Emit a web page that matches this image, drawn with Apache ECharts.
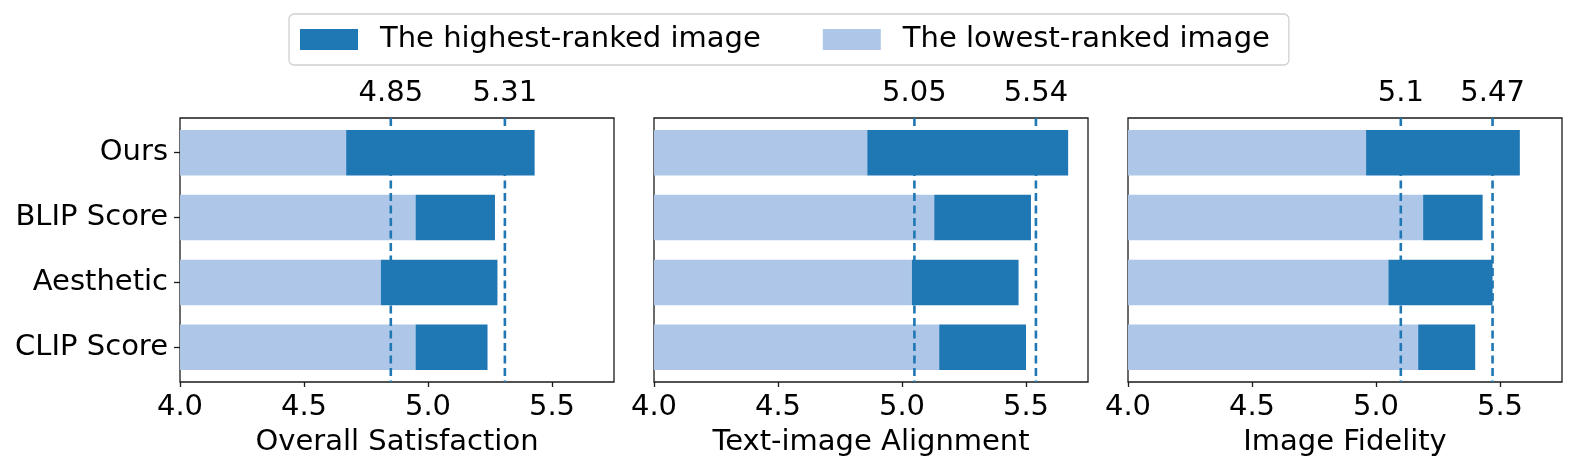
<!DOCTYPE html>
<html>
<head>
<meta charset="utf-8">
<script src="https://cdn.jsdelivr.net/npm/echarts@6/dist/echarts.min.js"></script>
<style>
html,body{margin:0;padding:0;background:#fff;}
#chart{width:1578px;height:473px;}
</style>
</head>
<body>
<div id="chart"></div>
<script>
const categories = ['Ours', 'BLIP Score', 'Aesthetic', 'CLIP Score'];
const panelTitles = ['Overall Satisfaction', 'Text-image Alignment', 'Image Fidelity'];
const seriesNames = ['The highest-ranked image', 'The lowest-ranked image'];
const xTickStep = 0.5;

const lowOverall = [4.67, 4.95, 4.81, 4.95];
const highOverall = [5.43, 5.27, 5.28, 5.24];
const lowAlign = [4.86, 5.13, 5.04, 5.15];
const highAlign = [5.67, 5.52, 5.47, 5.50];
const lowFidelity = [4.96, 5.19, 5.05, 5.17];
const highFidelity = [5.58, 5.43, 5.47, 5.40];

const refOverall = [4.85, 5.31];
const refAlign = [5.05, 5.54];
const refFidelity = [5.1, 5.47];

const panels = [
  {low: lowOverall, high: highOverall, ref: refOverall},
  {low: lowAlign, high: highAlign, ref: refAlign},
  {low: lowFidelity, high: highFidelity, ref: refFidelity}
];

const DARK = '#1f77b4', LIGHT = '#aec7e8';
const FONT = 'DejaVu Sans';
const FS = 29;
const AXIS_COLOR = '#1a1a1a';
const XMIN = 4.0, XMAX = 5.75, YMIN = -0.535, YMAX = 3.535, BAR_H = 0.7;
const gridLefts = [180, 654, 1128];

const grids = [], xAxes = [], yAxes = [], series = [];
panels.forEach((p, k) => {
  grids.push({left: gridLefts[k], top: 118, width: 434, height: 264, show: true,
    borderColor: AXIS_COLOR, borderWidth: 1.3, backgroundColor: 'transparent', containLabel: false});
  // bottom axis
  xAxes.push({type: 'value', gridIndex: k, position: 'bottom', min: XMIN, max: XMAX, interval: xTickStep,
    name: panelTitles[k], nameLocation: 'middle', nameGap: 46,
    nameTextStyle: {fontFamily: FONT, fontSize: FS, color: '#000'},
    axisLine: {show: false, onZero: false}, splitLine: {show: false},
    axisTick: {show: true, length: 5, lineStyle: {color: AXIS_COLOR, width: 1.3}},
    axisLabel: {fontFamily: FONT, fontSize: FS, color: '#000', margin: 11, showMaxLabel: false,
      formatter: v => Number(v).toFixed(1)}});
  // top axis with reference values
  xAxes.push({type: 'value', gridIndex: k, position: 'top', min: XMIN, max: XMAX,
    axisLine: {show: false, onZero: false}, splitLine: {show: false}, axisTick: {show: false},
    axisLabel: {fontFamily: FONT, fontSize: FS, color: '#000', margin: 10, customValues: p.ref,
      formatter: v => String(v)}});
  yAxes.push({type: 'value', gridIndex: k, min: YMIN, max: YMAX, inverse: true,
    axisLine: {show: false, onZero: false}, splitLine: {show: false},
    axisTick: {show: k === 0, length: 6, lineStyle: {color: AXIS_COLOR, width: 1.3}, customValues: [0, 1, 2, 3]},
    axisLabel: {show: k === 0, fontFamily: FONT, fontSize: FS, color: '#000', margin: 12,
      customValues: [0, 1, 2, 3], formatter: v => categories[Math.round(v)]}});

  const xi = k * 2;
  series.push({
    type: 'custom', name: seriesNames[1], xAxisIndex: xi, yAxisIndex: k, z: 2, silent: true,
    itemStyle: {color: LIGHT},
    data: p.low.map((v, i) => [v, i]),
    encode: {x: 0, y: 1},
    renderItem: (params, api) => {
      const s = api.coord([XMIN, api.value(1)]);
      const e = api.coord([api.value(0), api.value(1)]);
      const h = api.size([0, BAR_H])[1];
      return {type: 'rect', shape: {x: s[0], y: s[1] - h / 2, width: e[0] - s[0], height: h},
        style: {fill: LIGHT}};
    }
  });
  series.push({
    type: 'custom', name: 'ref' + k, xAxisIndex: xi, yAxisIndex: k, z: 3, silent: true,
    data: p.ref.map(v => [v, 0]),
    encode: {x: 0, y: 1},
    renderItem: (params, api) => {
      const a = api.coord([api.value(0), YMIN]);
      const b = api.coord([api.value(0), YMAX]);
      return {type: 'line', shape: {x1: a[0], y1: a[1], x2: b[0], y2: b[1]},
        style: {stroke: DARK, lineWidth: 2.6, lineDash: [8, 4.5]}};
    }
  });
  series.push({
    type: 'custom', name: seriesNames[0], xAxisIndex: xi, yAxisIndex: k, z: 4, silent: true,
    itemStyle: {color: DARK},
    data: p.low.map((v, i) => [v, p.high[i], i]),
    encode: {x: [0, 1], y: 2},
    renderItem: (params, api) => {
      const s = api.coord([api.value(0), api.value(2)]);
      const e = api.coord([api.value(1), api.value(2)]);
      const h = api.size([0, BAR_H])[1];
      return {type: 'rect', shape: {x: s[0], y: s[1] - h / 2, width: e[0] - s[0], height: h},
        style: {fill: DARK}};
    }
  });
});

const chart = echarts.init(document.getElementById('chart'), null, {renderer: 'canvas'});
chart.setOption({
  animation: false,
  backgroundColor: '#fff',
  legend: {
    data: [{name: seriesNames[0], icon: 'rect'}, {name: seriesNames[1], icon: 'rect'}],
    left: 289, top: 14, orient: 'horizontal',
    itemWidth: 58, itemHeight: 21, itemGap: 62,
    padding: [11, 19, 11, 11],
    borderColor: '#d0d0d0', borderWidth: 1.3, borderRadius: 5,
    textStyle: {fontFamily: FONT, fontSize: FS, color: '#000', padding: [0, 0, 0, 17]}
  },
  grid: grids,
  xAxis: xAxes,
  yAxis: yAxes,
  series: series
});
</script>
</body>
</html>
